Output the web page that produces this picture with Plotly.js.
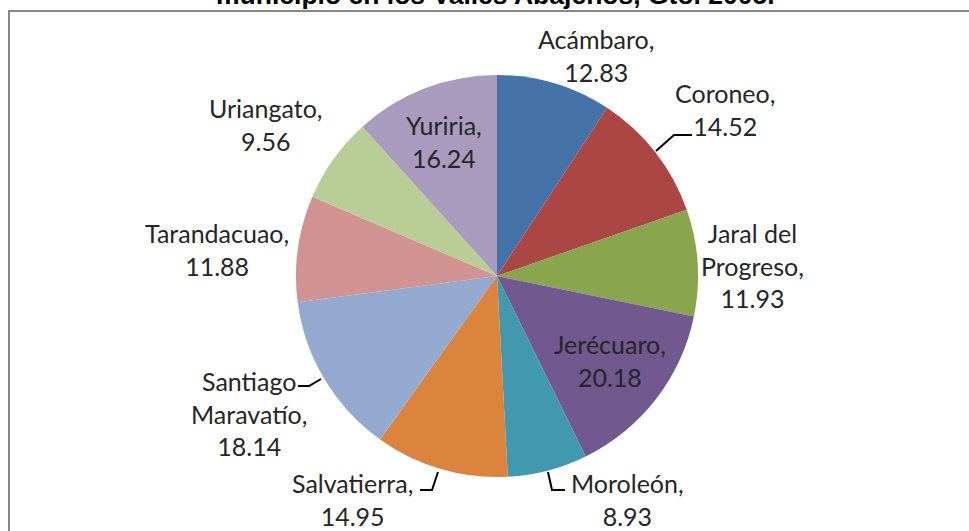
<!DOCTYPE html>
<html>
<head>
<meta charset="utf-8">
<script src="https://cdn.plot.ly/plotly-3.0.1.min.js"></script>
<style>html,body{margin:0;padding:0;background:#fff;}#chart{width:969px;height:531px;}</style>
</head>
<body>
<div id="chart"></div>
<script>
// ---- data ----
const municipios = ["Acámbaro", "Coroneo", "Jaral del Progreso", "Jerécuaro", "Moroleón",
                    "Salvatierra", "Santiago Maravatío", "Tarandacuao", "Uriangato", "Yuriria"];
const valores = [12.83, 14.52, 11.93, 20.18, 8.93, 14.95, 18.14, 11.88, 9.56, 16.24];
const etiquetas = ["Acámbaro,", "Coroneo,", "Jaral del<br>Progreso,", "Jerécuaro,", "Moroleón,",
                   "Salvatierra,", "Santiago<br>Maravatío,", "Tarandacuao,", "Uriangato,", "Yuriria,"];
const colores = ["#4572A7", "#AA4643", "#89A54E", "#71588F", "#4198AF",
                 "#DB843D", "#93A9CF", "#D19392", "#B9CD96", "#A99BBD"];
const tituloVisible = "municipio en los Valles Abajeños, Gto. 2005.";

// ---- layout helpers (pixel positions of label centres) ----
const W = 969, H = 531;
const px = (x) => x / W;
const py = (y) => 1 - y / H;
const labelPos = [[596, 56], [725, 110], [752, 265], [610, 360], [627, 499],
                  [352, 499], [249, 413], [217, 249], [266, 124], [444, 141]];
const leaders = [
  [[656, 151], [674, 135], [692, 135]],
  [[298, 386], [309, 386], [321, 379]],
  [[420, 490], [432, 490], [438, 472]],
  [[548, 472], [552, 490], [565, 490]]
];

const trace = {
  type: "pie",
  labels: municipios,
  values: valores,
  sort: false,
  direction: "clockwise",
  rotation: 0,
  marker: {colors: colores, line: {width: 0}},
  textinfo: "none",
  hoverinfo: "label+value",
  showlegend: false,
  domain: {x: [px(296), px(698)], y: [py(477), py(75)]}
};

const annotations = municipios.map((m, i) => ({
  xref: "paper", yref: "paper",
  x: px(labelPos[i][0]), y: py(labelPos[i][1]),
  xanchor: "center", yanchor: "middle",
  text: etiquetas[i] + "<br>" + valores[i].toFixed(2),
  showarrow: false,
  font: {family: "Lato, Carlito, 'Open Sans', sans-serif", size: 25, color: "#262626"}
}));
annotations.push({
  xref: "paper", yref: "paper",
  x: px(495), y: py(12), xanchor: "center", yanchor: "bottom",
  text: "<b>" + tituloVisible + "</b>", showarrow: false,
  font: {family: "'Liberation Sans', Arial, sans-serif", size: 26.5, color: "#000"}
});

const shapes = [{
  type: "rect", xref: "paper", yref: "paper",
  x0: px(9), y0: py(11), x1: px(990), y1: py(560),
  line: {color: "#878787", width: 2}, fillcolor: "rgba(0,0,0,0)"
}];
leaders.forEach(pts => {
  shapes.push({
    type: "path", xref: "paper", yref: "paper",
    path: pts.map((p, k) => (k ? "L" : "M") + px(p[0]) + "," + py(p[1])).join(" "),
    line: {color: "#000", width: 2}
  });
});

const layout = {
  width: W, height: H,
  margin: {l: 0, r: 0, t: 0, b: 0},
  paper_bgcolor: "#fff",
  annotations: annotations,
  shapes: shapes
};

Plotly.newPlot("chart", [trace], layout, {displayModeBar: false, staticPlot: true});
</script>
</body>
</html>
